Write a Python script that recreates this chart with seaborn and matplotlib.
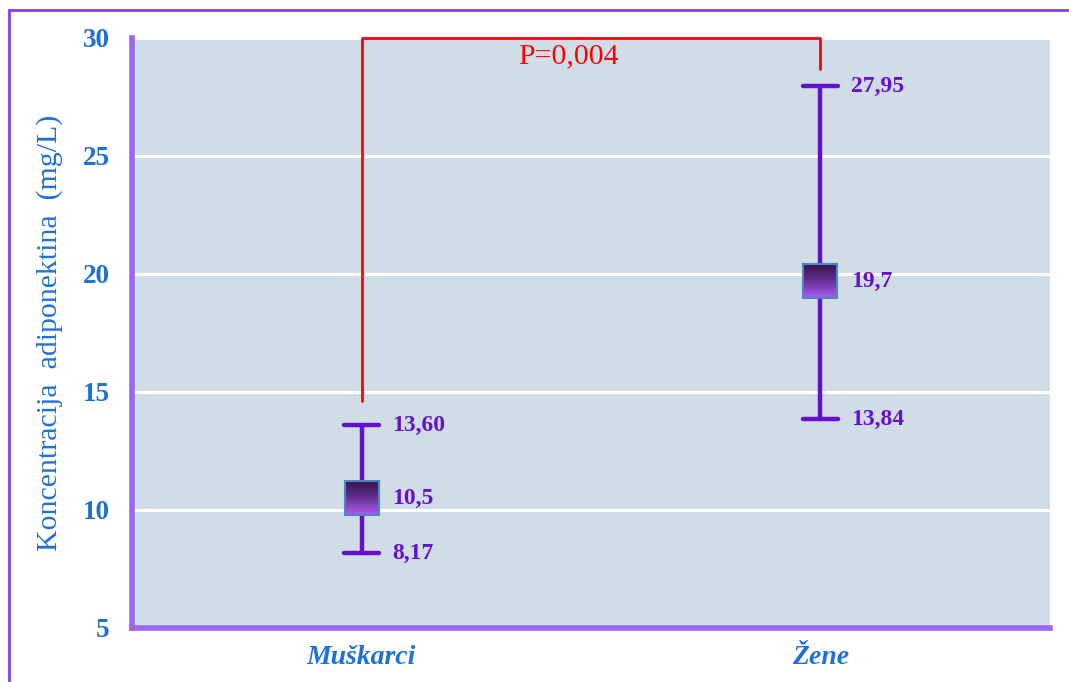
import numpy as np
import pandas as pd
import matplotlib
matplotlib.use("Agg")
import matplotlib.pyplot as plt
from matplotlib.path import Path
from matplotlib.lines import Line2D
import seaborn as sns

groups = ["Muškarci", "Žene"]
low = [8.17, 13.84]
mid = [10.5, 19.7]
high = [13.60, 27.95]
low_labels = ["8,17", "13,84"]
mid_labels = ["10,5", "19,7"]
high_labels = ["13,60", "27,95"]
yticks = [5, 10, 15, 20, 25, 30]
p_text = "P=0,004"
bracket_start = [14.6, 28.7]

purple = "#6510CF"
blue = "#1F6FD6"
bg = "#D0DCE6"

sns.set_theme(style="whitegrid", rc={"axes.facecolor": bg, "grid.color": "white",
                                     "grid.linewidth": 2.2})
plt.rcParams["font.family"] = ["Liberation Serif", "DejaVu Serif"]

df = pd.DataFrame({
    "grupa": [g for g in groups for _ in range(3)],
    "vrijednost": [v for trio in zip(low, mid, high) for v in trio],
})

fig = plt.figure(figsize=(10.69, 6.82), dpi=100)
ax = fig.add_axes([0.1235, 0.0792, 0.8587, 0.8651])

sns.pointplot(data=df, x="grupa", y="vrijednost", estimator="median",
              errorbar=lambda v: (v.min(), v.max()), capsize=0.075,
              color=purple, linestyle="none", marker="", err_kws={"linewidth": 3.2},
              ax=ax)

# gradient square markers built from horizontal strips
n = 24
top_c = np.array([0x38, 0x16, 0x52]) / 255
bot_c = np.array([0xB0, 0x5C, 0xF5]) / 255
for i in range(n):
    y1 = 0.5 - i / n
    y0 = 0.5 - (i + 1) / n - 0.01
    strip = Path([(-0.5, y0), (0.5, y0), (0.5, y1), (-0.5, y1), (-0.5, y0)],
                 [Path.MOVETO, Path.LINETO, Path.LINETO, Path.LINETO, Path.CLOSEPOLY])
    c = top_c + (bot_c - top_c) * (i / (n - 1)) ** 1.3
    ax.plot(range(len(groups)), mid, ls="none", marker=strip, ms=25,
            markerfacecolor=c, markeredgewidth=0, zorder=5)
ax.plot(range(len(groups)), mid, ls="none", marker="s", ms=25,
        markerfacecolor="none", markeredgecolor="#4A86C0", markeredgewidth=1.5, zorder=6)

for i in range(len(groups)):
    for val, lab in [(low[i], low_labels[i]), (mid[i], mid_labels[i]), (high[i], high_labels[i])]:
        ax.annotate(lab, (i, val), xytext=(22, 0), textcoords="offset points",
                    ha="left", va="center", fontsize=17, fontweight="bold", color=purple)

# significance bracket
ax.plot([0, 0, 1, 1], [bracket_start[0], 30, 30, bracket_start[1]],
        color="#FF0000", lw=2, clip_on=False, zorder=7)
ax.text(0.45, 29.2, p_text, ha="center", va="center", fontsize=21.5, color="#FF0000")

ax.set_xlim(-0.5, 1.5)
ax.set_ylim(5, 30)
ax.set_yticks(yticks)
ax.grid(axis="x", visible=False)
ax.set_xlabel("")
ax.set_ylabel("Koncentracija  adiponektina  (mg/L)", fontsize=21.5, color=blue, labelpad=14)
ax.tick_params(axis="y", length=0, pad=16, labelsize=19.5, labelcolor=blue)
ax.tick_params(axis="x", length=0, pad=12, labelsize=20, labelcolor=blue)
for t in ax.get_yticklabels():
    t.set_fontweight("bold")
for t in ax.get_xticklabels():
    t.set_fontweight("bold")
    t.set_fontstyle("italic")

for side in ["top", "right"]:
    ax.spines[side].set_visible(False)
for side in ["left", "bottom"]:
    ax.spines[side].set_color("#9966F5")
    ax.spines[side].set_linewidth(4)

# outer frame lines (left and top only, as in the original crop)
fig.add_artist(Line2D([9 / 1069, 9 / 1069], [0, 1 - 10 / 682], color="#8A3FE0", lw=2))
fig.add_artist(Line2D([9 / 1069, 1], [1 - 10 / 682, 1 - 10 / 682], color="#8A3FE0", lw=2))

fig.savefig("out.png", dpi=100)
